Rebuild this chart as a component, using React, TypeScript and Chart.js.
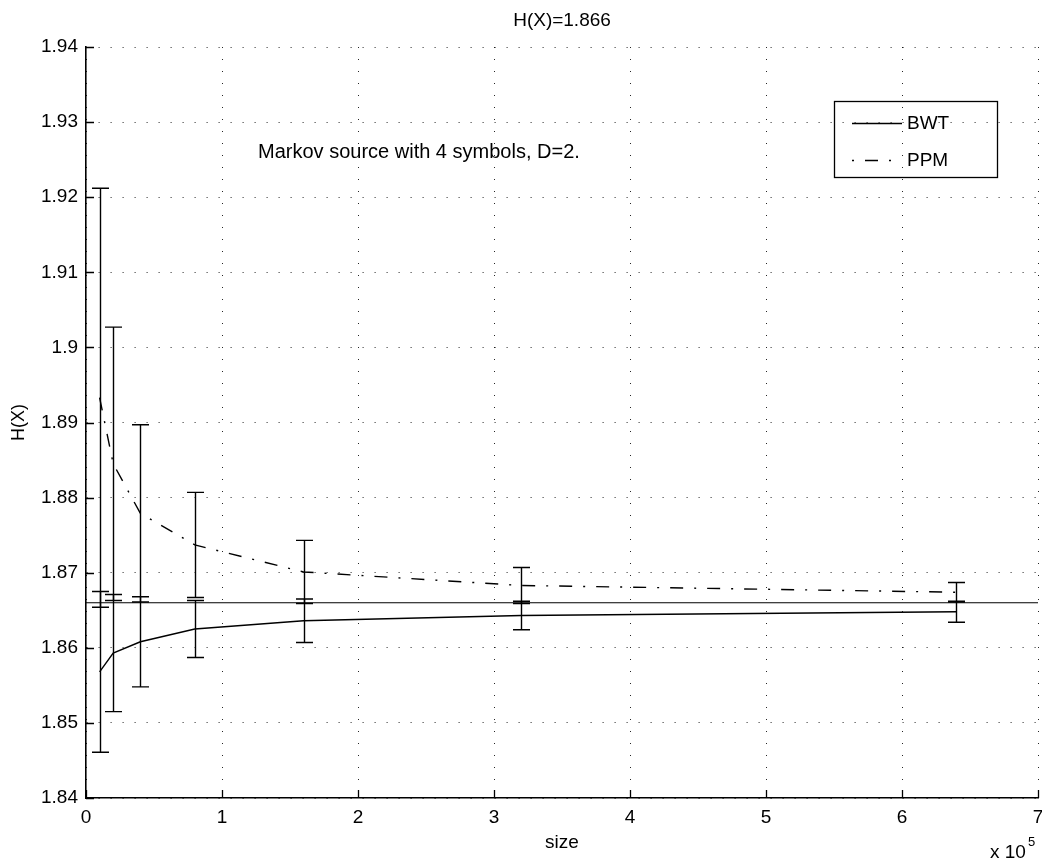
import React, { useEffect, useRef } from "react";
import { Chart, registerables } from "chart.js";

Chart.register(...registerables);

// ---- data ----
const TITLE = "H(X)=1.866";
const ANNOTATION = "Markov source with 4 symbols, D=2.";
const H_X = 1.866;
const sizes = [10000, 20000, 40000, 80000, 160000, 320000, 640000];
const bwtMean = [1.8568, 1.8593, 1.8608, 1.8625, 1.8636, 1.8643, 1.8648];
const bwtErr = [0.0107, 0.0078, 0.006, 0.0038, 0.0029, 0.0019, 0.0014];
const ppmMean = [1.8933, 1.8845, 1.8779, 1.8737, 1.8701, 1.8683, 1.8674];
const ppmErr = [0.0279, 0.0182, 0.0118, 0.007, 0.0042, 0.0024, 0.0013];
const xTickValues = [0, 100000, 200000, 300000, 400000, 500000, 600000, 700000];
const xTickLabels = ["0", "1", "2", "3", "4", "5", "6", "7"];
const yTickValues = [1.84, 1.85, 1.86, 1.87, 1.88, 1.89, 1.9, 1.91, 1.92, 1.93, 1.94];
const yTickLabels = ["1.84", "1.85", "1.86", "1.87", "1.88", "1.89", "1.9", "1.91", "1.92", "1.93", "1.94"];
const seriesNames = ["BWT", "PPM"];

const FONT = "'Liberation Sans', Arial, Helvetica, sans-serif";
const FS = 19;
const PPM_DASH = [13, 11, 2, 11];
const CAP = 8.5;

const errorBarPlugin = {
  id: "errorBars",
  afterDatasetsDraw(chart: any) {
    const { ctx, scales } = chart;
    const x = scales.x;
    const y = scales.y;
    ctx.save();
    ctx.strokeStyle = "#000";
    ctx.lineWidth = 1.4;
    const draw = (means: number[], errs: number[]) => {
      sizes.forEach((s, i) => {
        const px = Math.round(x.getPixelForValue(s)) + 0.5;
        const yt = y.getPixelForValue(means[i] + errs[i]);
        const yb = y.getPixelForValue(means[i] - errs[i]);
        ctx.beginPath();
        ctx.moveTo(px, yt);
        ctx.lineTo(px, yb);
        ctx.moveTo(px - CAP, yt);
        ctx.lineTo(px + CAP, yt);
        ctx.moveTo(px - CAP, yb);
        ctx.lineTo(px + CAP, yb);
        ctx.stroke();
      });
    };
    draw(bwtMean, bwtErr);
    draw(ppmMean, ppmErr);
    ctx.restore();
  },
};

const decorPlugin = {
  id: "decor",
  afterDraw(chart: any) {
    const { ctx, scales, chartArea } = chart;
    const x = scales.x;
    const y = scales.y;
    ctx.save();
    ctx.strokeStyle = "#000";
    ctx.fillStyle = "#000";
    ctx.lineWidth = 1.3;
    // inward ticks
    ctx.beginPath();
    xTickValues.forEach((v) => {
      const px = Math.round(x.getPixelForValue(v)) + 0.5;
      ctx.moveTo(px, chartArea.bottom);
      ctx.lineTo(px, chartArea.bottom - 8);
    });
    yTickValues.forEach((v) => {
      const py = Math.round(y.getPixelForValue(v)) + 0.5;
      ctx.moveTo(chartArea.left, py);
      ctx.lineTo(chartArea.left + 8, py);
    });
    ctx.stroke();

    // title
    ctx.font = `${FS}px ${FONT}`;
    ctx.textAlign = "center";
    ctx.textBaseline = "middle";
    ctx.fillText(TITLE, (chartArea.left + chartArea.right) / 2, 21);

    // annotation (data coordinates)
    ctx.font = `20px ${FONT}`;
    ctx.textAlign = "left";
    ctx.fillText(ANNOTATION, x.getPixelForValue(126500), y.getPixelForValue(1.9259));

    // x 10^5
    ctx.font = `${FS}px ${FONT}`;
    ctx.textAlign = "left";
    const base = "x 10";
    ctx.fillText(base, 990, 853);
    const w = ctx.measureText(base).width;
    ctx.font = `13px ${FONT}`;
    ctx.fillText("5", 990 + w + 2, 842);

    // legend
    ctx.lineWidth = 1.3;
    ctx.strokeRect(834.5, 101.5, 163, 76);
    ctx.beginPath();
    ctx.moveTo(852, 123.5);
    ctx.lineTo(902, 123.5);
    ctx.stroke();
    ctx.setLineDash(PPM_DASH);
    ctx.lineDashOffset = 24;
    ctx.beginPath();
    ctx.moveTo(852, 160.5);
    ctx.lineTo(902, 160.5);
    ctx.stroke();
    ctx.setLineDash([]);
    ctx.font = `${FS}px ${FONT}`;
    ctx.textAlign = "left";
    ctx.fillText(seriesNames[0], 907, 124);
    ctx.fillText(seriesNames[1], 907, 161);
    ctx.restore();
  },
};

export default function App() {
  const ref = useRef<HTMLCanvasElement | null>(null);
  useEffect(() => {
    if (!ref.current) return;
    const chart = new Chart(ref.current, {
      type: "line",
      data: {
        datasets: [
          {
            label: seriesNames[0],
            data: sizes.map((s, i) => ({ x: s, y: bwtMean[i] })),
            borderColor: "#000",
            borderWidth: 1.4,
            pointRadius: 0,
            fill: false,
          },
          {
            label: seriesNames[1],
            data: sizes.map((s, i) => ({ x: s, y: ppmMean[i] })),
            borderColor: "#000",
            borderWidth: 1.4,
            borderDash: PPM_DASH,
            pointRadius: 0,
            fill: false,
          },
          {
            label: "H(X)",
            data: [
              { x: xTickValues[0], y: H_X },
              { x: xTickValues[xTickValues.length - 1], y: H_X },
            ],
            borderColor: "#000",
            borderWidth: 1.2,
            pointRadius: 0,
            fill: false,
          },
        ],
      },
      options: {
        animation: false,
        responsive: false,
        devicePixelRatio: 1,
        layout: { padding: { top: 47, right: 4, bottom: 0, left: 0 } },
        plugins: {
          legend: { display: false },
          title: { display: false },
          tooltip: { enabled: false },
        },
        scales: {
          x: {
            type: "linear",
            min: 0,
            max: 700000,
            afterBuildTicks: (scale: any) => {
              scale.ticks = xTickValues.map((v) => ({ value: v }));
            },
            afterFit: (scale: any) => {
              scale.height = 67;
              scale.paddingLeft = 0;
              scale.paddingRight = 0;
            },
            ticks: {
              autoSkip: false,
              maxRotation: 0,
              padding: 8,
              color: "#000",
              font: { family: FONT, size: FS },
              callback: (_v: any, i: number) => xTickLabels[i],
            },
            grid: {
              color: "rgba(0,0,0,0.85)",
              lineWidth: 1,
              drawTicks: false,
            },
            border: { display: true, color: "#000", width: 1.6, dash: [1, 11] },
            title: {
              display: true,
              text: "size",
              color: "#000",
              font: { family: FONT, size: FS },
              padding: { top: 0, bottom: 11 },
            },
          },
          y: {
            type: "linear",
            min: 1.84,
            max: 1.94,
            afterBuildTicks: (scale: any) => {
              scale.ticks = yTickValues.map((v) => ({ value: v }));
            },
            afterFit: (scale: any) => {
              scale.width = 86;
              scale.paddingTop = 0;
              scale.paddingBottom = 0;
            },
            ticks: {
              autoSkip: false,
              padding: 8,
              color: "#000",
              font: { family: FONT, size: FS },
              callback: (_v: any, i: number) => yTickLabels[i],
            },
            grid: {
              color: "rgba(0,0,0,0.85)",
              lineWidth: 1,
              drawTicks: false,
            },
            border: { display: true, color: "#000", width: 1.6, dash: [1, 11] },
            title: {
              display: true,
              text: "H(X)",
              color: "#000",
              font: { family: FONT, size: FS - 1 },
              padding: { top: 8, bottom: 0 },
            },
          },
        },
      },
      plugins: [errorBarPlugin, decorPlugin],
    } as any);
    return () => chart.destroy();
  }, []);
  return (
    <div style={{ position: "absolute", left: 0, top: 0, width: 1042, height: 865, background: "#fff" }}>
      <canvas ref={ref} width={1042} height={865} style={{ display: "block" }} />
    </div>
  );
}
